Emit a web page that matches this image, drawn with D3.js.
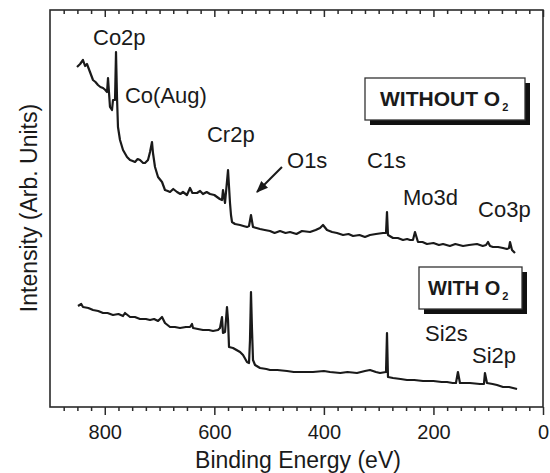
<!DOCTYPE html>
<html>
<head>
<meta charset="utf-8">
<script src="https://cdn.jsdelivr.net/npm/d3@7"></script>
<style>
  html, body { margin: 0; padding: 0; background: #fff; }
  svg { display: block; }
  text { font-family: "Liberation Sans", Arial, sans-serif; fill: #1a1a1a; }
</style>
</head>
<body>
<svg id="chart" width="550" height="473"></svg>
<script>
// ---- data: [binding energy (eV), intensity (arb. units)] ----
const withoutO2 = [
  [850.7, 34.0], [845.0, 34.3], [839.8, 34.7], [836.0, 34.1], [832.5, 34.3], [827.0, 33.5], [821.5, 32.7],
  [817.0, 32.5], [812.4, 32.2], [808.0, 32.0], [803.2, 31.9], [799.0, 31.7], [795.9, 31.5], [794.1, 32.9],
  [790.5, 30.0], [786.8, 29.7], [785.0, 30.7], [781.3, 30.7], [779.5, 35.5], [777.7, 31.0], [775.9, 28.0],
  [772.2, 26.7], [766.7, 25.7], [759.4, 25.0], [753.9, 24.7], [749.0, 24.6], [744.8, 24.5], [740.0, 24.8],
  [735.7, 24.7], [730.0, 24.4], [726.6, 24.4], [721.1, 24.7], [717.4, 25.5], [713.8, 26.5], [712.0, 25.4],
  [708.3, 24.0], [702.8, 23.0], [695.5, 22.5], [690.1, 21.7], [685.0, 21.6], [680.9, 21.5], [675.0, 21.8],
  [668.1, 21.5], [662.0, 21.3], [657.2, 21.5], [650.0, 21.2], [644.4, 21.9], [640.0, 21.4], [631.6, 21.4],
  [626.0, 21.6], [620.7, 21.3], [614.0, 21.5], [607.9, 21.3], [600.0, 21.2], [595.1, 21.0], [590.0, 20.8],
  [586.0, 20.7], [584.2, 21.7], [580.5, 20.4], [575.0, 23.7], [571.4, 20.4], [569.6, 19.2], [567.7, 18.5],
  [562.3, 18.3], [553.1, 18.2], [547.0, 18.1], [540.4, 18.0], [536.7, 18.1], [533.1, 19.2], [529.4, 18.0],
  [523.0, 17.9], [516.6, 17.8], [508.0, 17.7], [498.4, 17.6], [490.0, 17.4], [480.1, 17.6], [470.0, 17.4],
  [461.9, 17.5], [450.0, 17.3], [440.0, 17.6], [425.3, 17.5], [415.0, 17.7], [407.1, 17.9], [401.6, 18.2],
  [394.3, 17.7], [385.0, 17.5], [376.1, 17.4], [365.0, 17.2], [355.0, 17.3], [346.8, 17.1], [335.0, 17.2],
  [325.0, 17.0], [315.8, 17.2], [305.0, 17.3], [292.1, 17.4], [286.6, 17.4], [284.8, 19.5], [283.0, 17.2],
  [273.8, 16.9], [265.0, 16.9], [255.6, 16.7], [248.0, 16.8], [242.8, 16.7], [237.4, 16.7], [233.7, 17.5],
  [228.2, 16.5], [220.0, 16.5], [211.8, 16.3], [200.0, 16.4], [190.0, 16.2], [182.5, 16.3], [170.0, 16.1],
  [160.0, 16.3], [146.0, 16.1], [135.0, 16.2], [120.5, 16.3], [110.0, 16.1], [104.0, 16.2], [100.4, 16.5],
  [96.7, 16.1], [91.3, 16.0], [82.0, 16.0], [73.0, 15.9], [66.0, 15.8], [62.1, 15.9], [60.2, 16.5],
  [56.6, 15.7], [51.1, 15.4]
];

const withO2 = [
  [848.9, 10.1], [843.0, 10.3], [839.8, 10.0], [830.0, 9.9], [821.5, 9.7], [812.0, 9.6], [803.2, 9.4],
  [795.0, 9.4], [785.0, 9.2], [775.0, 9.3], [766.7, 9.1], [763.1, 9.4], [753.9, 9.0], [745.0, 9.0],
  [735.7, 8.8], [725.0, 8.8], [717.4, 8.7], [710.0, 8.8], [702.8, 8.6], [695.5, 9.0], [690.1, 8.4],
  [680.9, 8.0], [672.0, 8.0], [662.7, 7.9], [652.0, 8.0], [644.4, 8.0], [640.8, 8.3], [638.9, 7.9],
  [630.0, 7.8], [620.7, 7.7], [610.0, 7.7], [602.4, 7.6], [593.3, 7.7], [589.6, 7.9], [586.0, 9.0],
  [584.2, 7.4], [580.5, 7.5], [576.9, 10.0], [575.0, 8.7], [573.2, 6.0], [565.9, 5.9], [553.1, 5.5],
  [547.6, 5.2], [540.4, 4.5], [536.7, 4.4], [534.9, 6.7], [533.1, 11.5], [531.2, 7.7], [529.4, 4.7],
  [525.7, 4.2], [516.6, 3.9], [505.0, 3.8], [498.4, 3.7], [485.0, 3.7], [467.3, 3.6], [455.0, 3.5],
  [443.6, 3.5], [420.0, 3.5], [400.0, 3.6], [388.8, 3.5], [370.0, 3.4], [357.0, 3.5], [339.6, 3.4],
  [325.0, 3.6], [315.8, 3.7], [305.0, 3.5], [297.6, 3.4], [286.6, 3.5], [284.8, 7.4], [283.0, 3.0],
  [273.8, 2.9], [260.0, 2.8], [248.3, 2.7], [235.0, 2.7], [219.0, 2.6], [200.0, 2.6], [185.0, 2.5],
  [175.3, 2.5], [165.0, 2.4], [158.9, 2.4], [155.3, 3.5], [151.6, 2.4], [140.0, 2.4], [133.4, 2.4],
  [115.1, 2.3], [107.8, 2.3], [106.0, 3.4], [102.3, 2.4], [92.0, 2.3], [84.0, 2.2], [73.0, 2.0],
  [62.0, 2.0], [54.7, 1.9], [47.4, 1.8]
];

const majorTicks = [800, 600, 400, 200, 0];
const tickLabels = ["800", "600", "400", "200", "0"];

const peakLabels = ["Co2p", "Co(Aug)", "Cr2p", "O1s", "C1s", "Mo3d", "Co3p", "Si2s", "Si2p"];
const peakLabelEnergy = [821.5, 763.1, 613.4, 467.3, 321.3, 255.6, 118.5, 215.4, 129.6];
const peakLabelIntensity = [36.2, 30.4, 26.5, 23.9, 23.9, 20.2, 19.0, 6.6, 4.4];

const legendNames = ["WITHOUT O", "WITH O"];

// ---- layout ----
const svg = d3.select("#chart");
const pLeft = 50, pRight = 543, pTop = 10, pBottom = 407;
const x = d3.scaleLinear().domain([900, 0]).range([pLeft, pRight]);
const y = d3.scaleLinear().domain([0, 39.7]).range([pBottom, pTop]);

// frame
svg.append("rect")
  .attr("x", pLeft).attr("y", pTop)
  .attr("width", pRight - pLeft).attr("height", pBottom - pTop)
  .attr("fill", "none").attr("stroke", "#2a2a2a").attr("stroke-width", 1.6);

const minorTicks = d3.range(875, 0, -25).filter(v => v % 200 !== 0);

// bottom axis
const gB = svg.append("g").attr("transform", `translate(0,${pBottom})`);
gB.call(d3.axisBottom(x).tickValues(majorTicks).tickSize(8).tickPadding(10)
  .tickFormat((d, i) => tickLabels[i]));
gB.append("g").call(d3.axisBottom(x).tickValues(minorTicks).tickSize(4).tickFormat(""));
// top axis (ticks inward)
const gT = svg.append("g").attr("transform", `translate(0,${pTop})`);
gT.call(d3.axisBottom(x).tickValues(majorTicks).tickSize(7).tickFormat(""));
gT.append("g").call(d3.axisBottom(x).tickValues(minorTicks).tickSize(4).tickFormat(""));

svg.selectAll(".domain").remove();
svg.selectAll(".tick line").attr("stroke", "#2a2a2a").attr("stroke-width", 1.5);
gB.selectAll(".tick text").attr("font-size", 20).attr("fill", "#1a1a1a")
  .attr("font-family", '"Liberation Sans", Arial, sans-serif');

// axis titles
svg.append("text").attr("x", 298).attr("y", 468).attr("text-anchor", "middle")
  .attr("font-size", 23).text("Binding Energy (eV)");
svg.append("text").attr("transform", "translate(37,208) rotate(-90)")
  .attr("text-anchor", "middle").attr("font-size", 23).text("Intensity (Arb. Units)");

// spectra
const line = d3.line().x(d => x(d[0])).y(d => y(d[1]));
[withoutO2, withO2].forEach(s => {
  svg.append("path").datum(s).attr("d", line)
    .attr("fill", "none").attr("stroke", "#1a1a1a").attr("stroke-width", 2.2)
    .attr("stroke-linejoin", "round");
});

// peak labels
peakLabels.forEach((t, i) => {
  svg.append("text").attr("x", x(peakLabelEnergy[i])).attr("y", y(peakLabelIntensity[i]))
    .attr("font-size", 22).text(t);
});

// arrow for O1s
svg.append("defs").append("marker").attr("id", "ah")
  .attr("viewBox", "0 0 10 10").attr("refX", 9).attr("refY", 5)
  .attr("markerWidth", 6).attr("markerHeight", 6).attr("orient", "auto")
  .append("path").attr("d", "M0,1 L10,5 L0,9 Z").attr("fill", "#1a1a1a");
svg.append("line")
  .attr("x1", x(476.5)).attr("y1", y(24.0)).attr("x2", x(522.1)).attr("y2", y(21.5))
  .attr("stroke", "#1a1a1a").attr("stroke-width", 2).attr("marker-end", "url(#ah)");

// legend boxes
const boxes = [
  {x: 365, y: 78, w: 160, h: 42, tx: 380, ty: 106, fs: 21},
  {x: 419, y: 267, w: 103, h: 42, tx: 428, ty: 295, fs: 20}
];
boxes.forEach((b, i) => {
  svg.append("rect").attr("x", b.x + 5).attr("y", b.y + 5).attr("width", b.w).attr("height", b.h)
    .attr("fill", "#111");
  svg.append("rect").attr("x", b.x).attr("y", b.y).attr("width", b.w).attr("height", b.h)
    .attr("fill", "#fff").attr("stroke", "#333").attr("stroke-width", 1.3);
  const t = svg.append("text").attr("x", b.tx).attr("y", b.ty)
    .attr("font-size", b.fs).attr("font-weight", "bold").text(legendNames[i]);
  t.append("tspan").attr("font-size", 11).attr("dx", 2).attr("dy", 5).text("2");
});
</script>
</body>
</html>
